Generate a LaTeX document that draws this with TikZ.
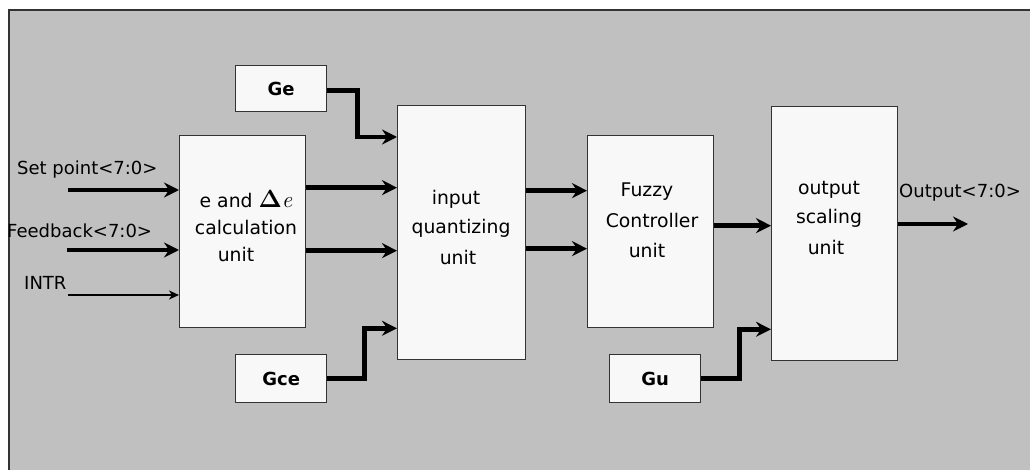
\documentclass[tikz,border=0pt]{standalone}
\usepackage{fontspec}
\usepackage{amsmath}
\usetikzlibrary{arrows.meta}
\newfontfamily\dv{DejaVu Sans}
\definecolor{panel}{HTML}{C0C0C0}
\definecolor{boxfill}{HTML}{F8F8F8}
\definecolor{boxline}{HTML}{333333}
\tikzset{
  blk/.style={draw=boxline, fill=boxfill, line width=1.3pt, inner sep=0pt, anchor=north west},
  bus/.style={line width=4.6pt, -{Stealth[length=15pt,width=15pt,inset=5pt]}},
  wire/.style={line width=1.8pt, -{Stealth[length=10pt,width=9pt,inset=3pt]}},
  txt/.style={font=\dv\fontsize{18.8}{28}\selectfont, align=center, inner sep=0pt},
  sig/.style={font=\dv\fontsize{18}{28}\selectfont, inner sep=0pt, anchor=west},
  gain/.style={font=\dv\bfseries\fontsize{18}{20}\selectfont}
}
\begin{document}
\begin{tikzpicture}[x=1pt,y=-1pt]
  \useasboundingbox (0,0) rectangle (1030,470);
  \fill[white] (0,0) rectangle (1030,470);
  \draw[fill=panel, draw=boxline, line width=1.3pt] (9,10) rectangle (1040,480);

  % processing blocks
  \node[blk, minimum width=126pt, minimum height=192pt] (calc) at (179,135) {};
  \node[blk, minimum width=128pt, minimum height=254pt] (iq) at (397,105) {};
  \node[blk, minimum width=126pt, minimum height=192pt] (fz) at (587,135) {};
  \node[blk, minimum width=126pt, minimum height=254pt] (os) at (771,106) {};

  % gain blocks
  \node[blk, minimum width=91pt, minimum height=46pt, gain] (ge) at (235,65) {Ge};
  \node[blk, minimum width=91pt, minimum height=48pt, gain] (gce) at (235,354) {Gce};
  \node[blk, minimum width=91pt, minimum height=48pt, gain] (gu) at (609,354) {Gu};

  % block captions
  \node[txt] (calcA) at (246,199) {e and {\fontsize{23}{28}\selectfont$\boldsymbol{\Delta}\mathit{e}$}};
  \node[txt] (calcB) at (246,227) {calculation};
  \node[txt] (calcC) at (236,254) {unit};
  \node[txt] (iqA) at (456,199) {input};
  \node[txt] (iqB) at (461,228) {quantizing};
  \node[txt] (iqC) at (458,257) {unit};
  \node[txt] (fzA) at (647,192) {Fuzzy};
  \node[txt] (fzB) at (652,220) {Controller};
  \node[txt] (fzC) at (647,250) {unit};
  \node[txt] (osA) at (829,190) {output};
  \node[txt] (osB) at (829,218) {scaling};
  \node[txt] (osC) at (826,247) {unit};

  % external signal names
  \node[sig] (spL) at (17,170) {Set point<7:0>};
  \node[sig] (fbL) at (7,231) {Feedback<7:0>};
  \node[sig] (inL) at (24,283) {INTR};
  \node[sig] (outL) at (899,193) {Output<7:0>};

  % inputs
  \coordinate (sp) at (68,190);
  \coordinate (fb) at (67,250);
  \coordinate (intr) at (68,295);
  \draw[bus] (sp) -- (sp -| calc.west);
  \draw[bus] (fb) -- (fb -| calc.west);
  \draw[wire] (intr) -- (intr -| calc.west);

  % calculation -> quantizer
  \draw[bus] ([yshift=44pt]calc.east) coordinate (c1) -- (c1 -| iq.west);
  \draw[bus] ([yshift=-19pt]calc.east) coordinate (c2) -- (c2 -| iq.west);

  % gains into quantizer
  \draw[bus] ([yshift=-2pt]ge.east) -- ++(30,0) |- ([yshift=-32pt]iq.north west);
  \draw[bus] (gce.east) -- ++(37,0) |- ([yshift=32pt]iq.south west);

  % quantizer -> fuzzy controller
  \draw[bus] ([yshift=42pt]iq.east) coordinate (q1) -- (q1 -| fz.west);
  \draw[bus] ([yshift=-16pt]iq.east) coordinate (q2) -- (q2 -| fz.west);

  % fuzzy controller -> output scaling
  \draw[bus] ([yshift=6pt]fz.east) coordinate (f1) -- (f1 -| os.west);
  \draw[bus] (gu.east) -- ++(38,0) |- ([yshift=32pt]os.south west);

  % output
  \coordinate (out) at (968,224);
  \draw[bus] (out -| os.east) -- (out);
\end{tikzpicture}
\end{document}
